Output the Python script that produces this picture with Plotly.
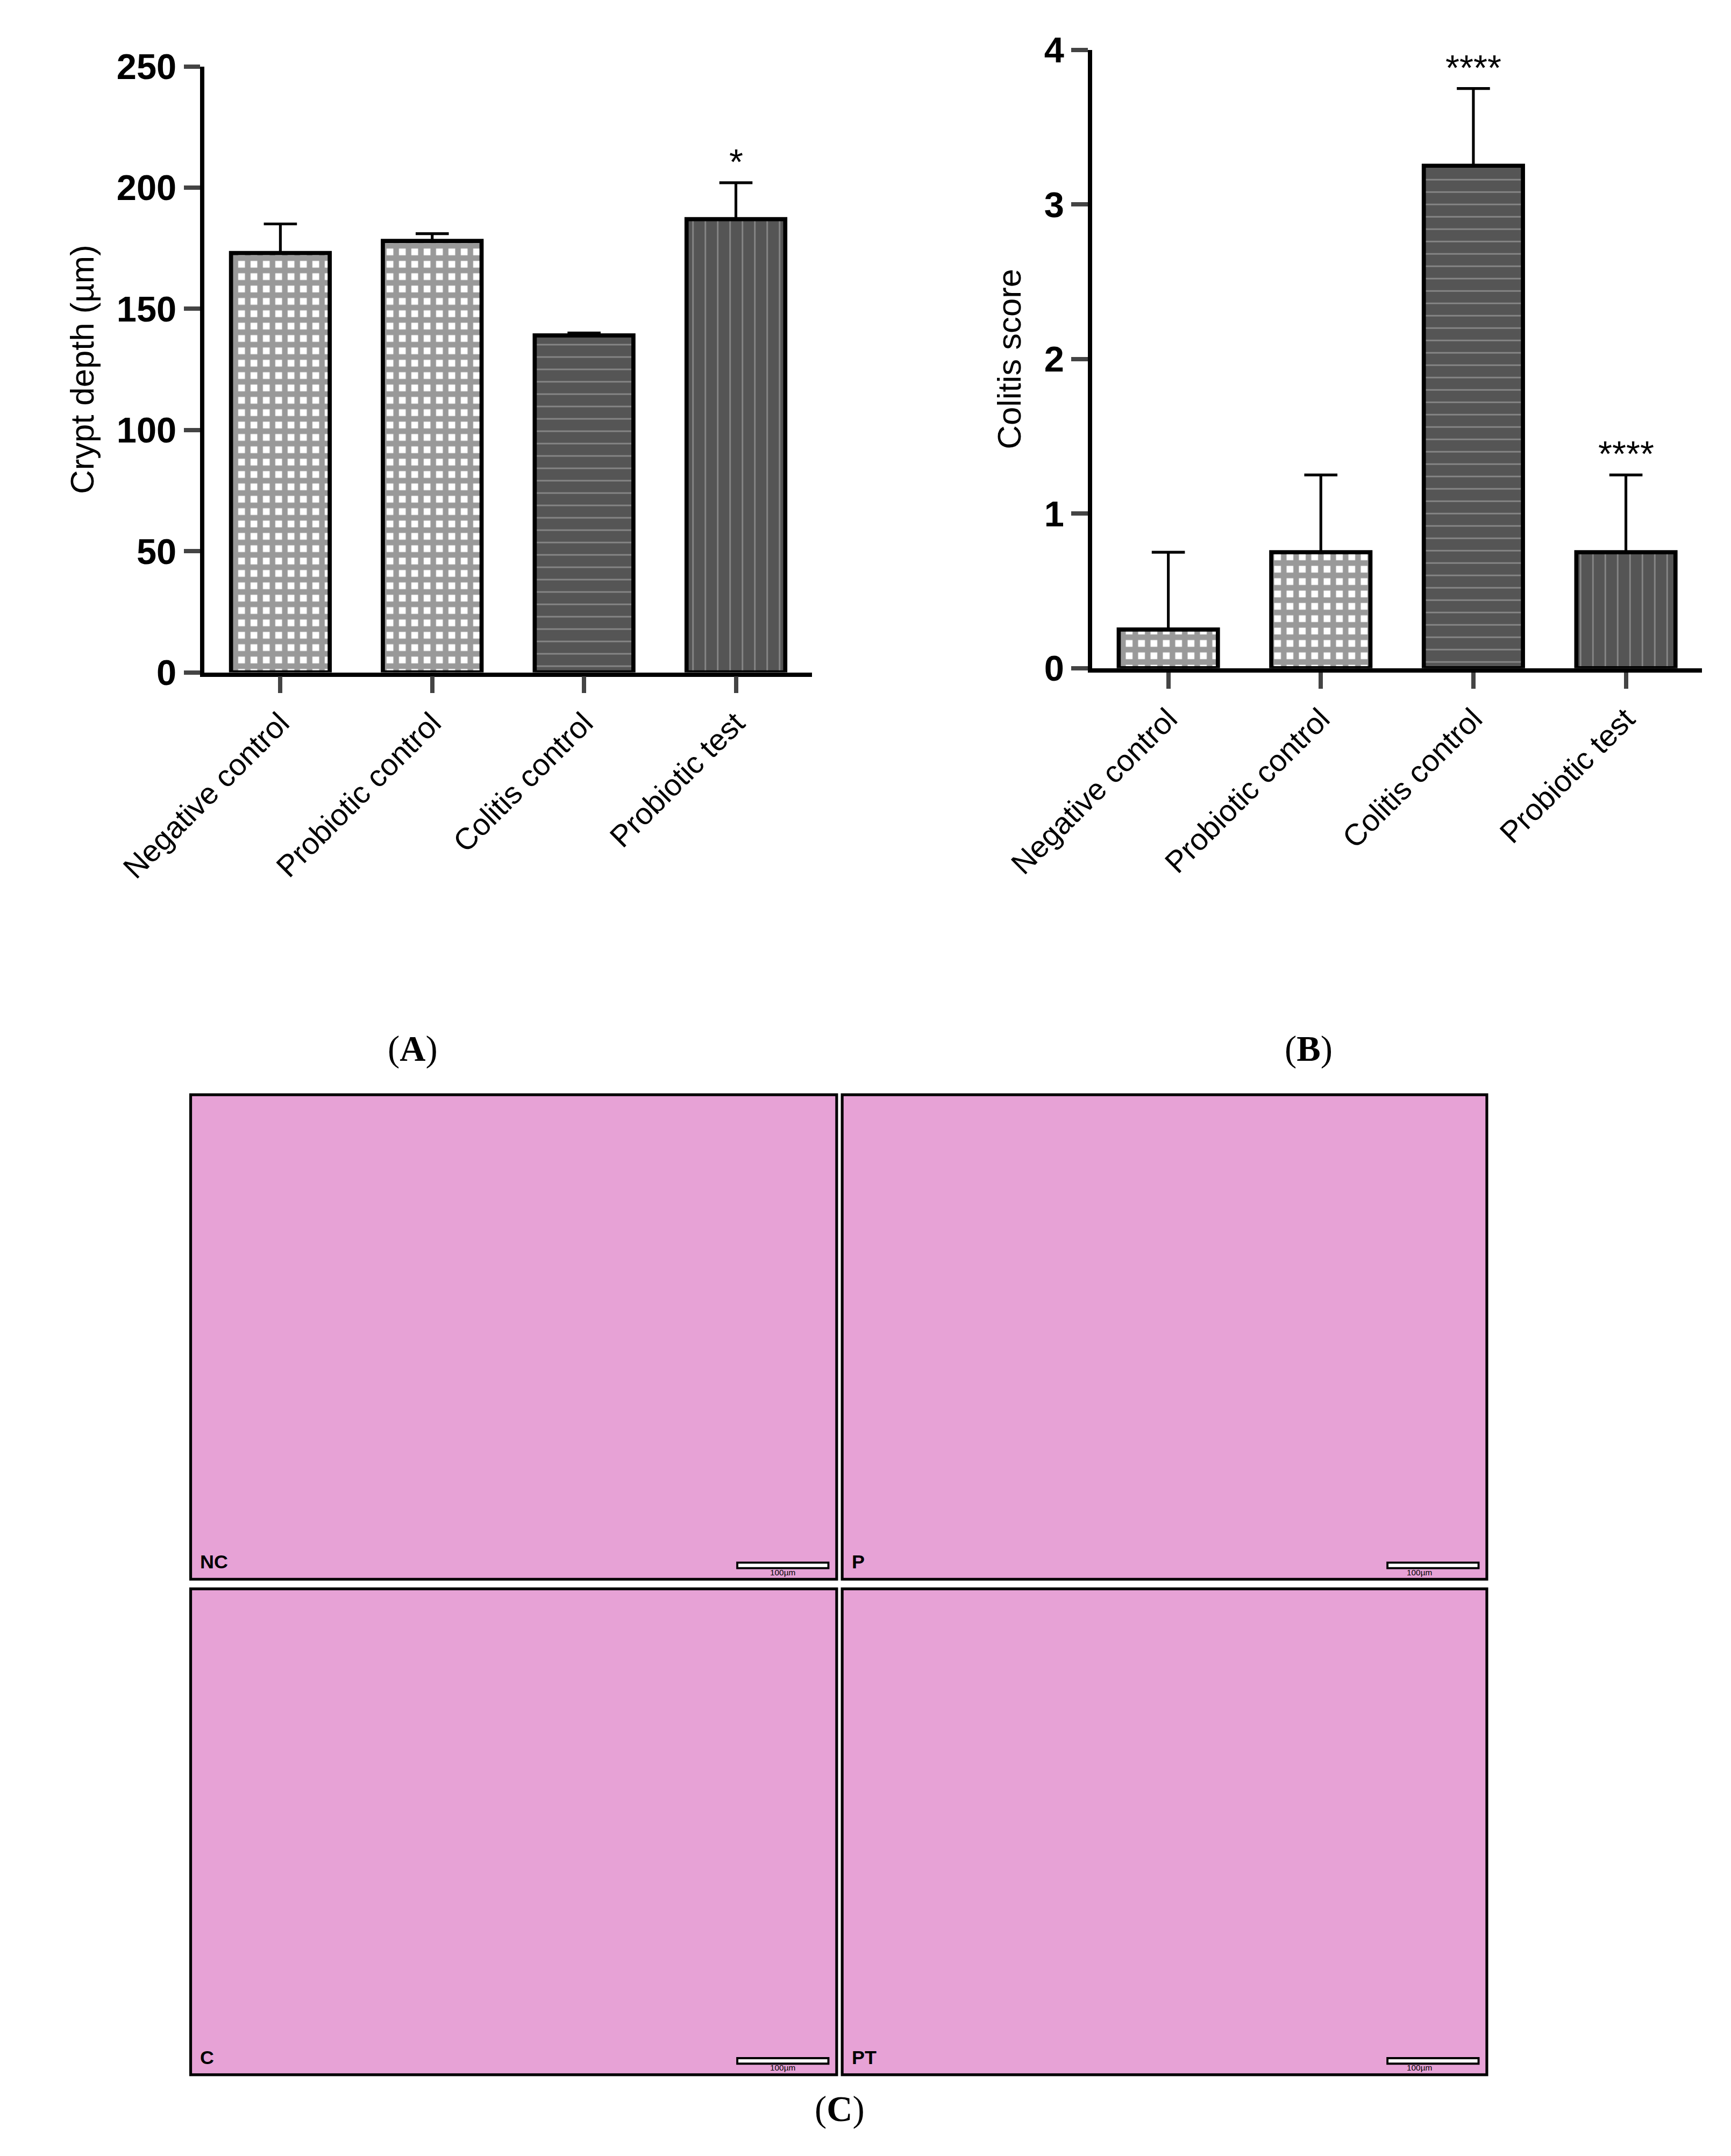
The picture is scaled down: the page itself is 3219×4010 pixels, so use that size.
import plotly.graph_objects as go

groups = ['Negative control', 'Probiotic control', 'Colitis control', 'Probiotic test']
crypt_depth = [173, 178, 139, 187]
crypt_err = [12, 3, 1, 15]
crypt_sig = ['', '', '', '*']
colitis_score = [0.25, 0.75, 3.25, 0.75]
colitis_err = [0.5, 0.5, 0.5, 0.5]
colitis_sig = ['', '', '****', '****']
panels = ['NC', 'P', 'C', 'PT']

S = 3219 / 1254
W, H = 3219, 4010
font = 'Liberation Sans'

patterns = [
    dict(shape='+', fgcolor='#333', bgcolor='white', size=int(9 * S), solidity=0.7),
    dict(shape='+', fgcolor='#333', bgcolor='white', size=int(9 * S), solidity=0.7),
    dict(shape='-', fgcolor='#bbb', bgcolor='#555', size=int(9 * S), solidity=0.12),
    dict(shape='|', fgcolor='#bbb', bgcolor='#555', size=int(9 * S), solidity=0.12),
]

fig = go.Figure()
for i, g in enumerate(groups):
    fig.add_trace(go.Bar(
        x=[g], y=[crypt_depth[i]], width=0.65, xaxis='x', yaxis='y',
        marker=dict(color=patterns[i]['bgcolor'], pattern=patterns[i],
                    line=dict(color='black', width=3 * S)),
        error_y=dict(type='data', array=[crypt_err[i]], arrayminus=[0],
                     color='black', thickness=2 * S, width=12 * S),
        showlegend=False))
    fig.add_trace(go.Bar(
        x=[g], y=[colitis_score[i]], width=0.65, xaxis='x2', yaxis='y2',
        marker=dict(color=patterns[i]['bgcolor'], pattern=patterns[i],
                    line=dict(color='black', width=3 * S)),
        error_y=dict(type='data', array=[colitis_err[i]], arrayminus=[0],
                     color='black', thickness=2 * S, width=12 * S),
        showlegend=False))

ann = []
for i, g in enumerate(groups):
    if crypt_sig[i]:
        ann.append(dict(x=g, y=crypt_depth[i] + crypt_err[i], xref='x', yref='y',
                        text=crypt_sig[i], showarrow=False, yanchor='bottom',
                        font=dict(size=26 * S, family=font, color='black')))
    if colitis_sig[i]:
        ann.append(dict(x=g, y=colitis_score[i] + colitis_err[i], xref='x2', yref='y2',
                        text=colitis_sig[i], showarrow=False, yanchor='bottom',
                        font=dict(size=26 * S, family=font, color='black')))

for lab, x, y in [('(<b>A</b>)', 277, 757), ('(<b>B</b>)', 963, 757), ('(<b>C</b>)', 605, 1540)]:
    ann.append(dict(x=x / 1254, y=1 - y / 1562, xref='paper', yref='paper', text=lab,
                    showarrow=False, font=dict(size=26 * S, family='Liberation Serif', color='black')))

# histology panels (placeholders)
boxes = [(135, 603, 790, 1141), (607, 1074, 790, 1141), (135, 603, 1148, 1500), (607, 1074, 1148, 1500)]
shapes = []
for (x0, x1, y0, y1), p in zip(boxes, panels):
    shapes.append(dict(type='rect', xref='paper', yref='paper', x0=x0 / 1254, x1=x1 / 1254,
                       y0=1 - y1 / 1562, y1=1 - y0 / 1562, fillcolor='#e7a2d6',
                       line=dict(color='black', width=2 * S), layer='below'))
    shapes.append(dict(type='rect', xref='paper', yref='paper', x0=(x1 - 72) / 1254, x1=(x1 - 6) / 1254,
                       y0=1 - (y1 - 8) / 1562, y1=1 - (y1 - 12) / 1562, fillcolor='white',
                       line=dict(color='black', width=1.5 * S)))
    ann.append(dict(x=(x0 + 6) / 1254, y=1 - (y1 - 4) / 1562, xref='paper', yref='paper',
                    text='<b>' + p + '</b>', showarrow=False, xanchor='left', yanchor='bottom',
                    font=dict(size=14 * S, family=font, color='black')))
    ann.append(dict(x=(x1 - 39) / 1254, y=1 - (y1 - 1) / 1562, xref='paper', yref='paper',
                    text='100µm', showarrow=False, yanchor='bottom',
                    font=dict(size=6 * S, family=font, color='black')))

axis_common = dict(showline=True, linecolor='black', linewidth=3 * S, ticks='outside',
                   tickwidth=3 * S, ticklen=12 * S, showgrid=False, zeroline=False, automargin=False)
tickfont_x = dict(size=22 * S, family=font, color='black')
tickfont_y = dict(size=26 * S, family=font, color='black', weight='bold')

fig.update_layout(
    width=W, height=H, plot_bgcolor='white', paper_bgcolor='white',
    margin=dict(l=0, r=0, t=0, b=0, autoexpand=False), bargap=0.35,
    xaxis=dict(domain=[145 / 1254, 585 / 1254], anchor='y', tickangle=-45,
               tickfont=tickfont_x, **axis_common),
    yaxis=dict(domain=[1 - 484 / 1562, 1 - 45 / 1562], anchor='x', range=[0, 250],
               tickvals=[0, 50, 100, 150, 200, 250], tickfont=tickfont_y,
               title=dict(text='Crypt depth (µm)', font=dict(size=24 * S, family=font, color='black'), standoff=10 * S),
               **axis_common),
    xaxis2=dict(domain=[788 / 1254, 1230 / 1254], anchor='y2', tickangle=-45,
                tickfont=tickfont_x, **axis_common),
    yaxis2=dict(domain=[1 - 481 / 1562, 1 - 33 / 1562], anchor='x2', range=[0, 4],
                tickvals=[0, 1, 2, 3, 4], tickfont=tickfont_y,
                title=dict(text='Colitis score', font=dict(size=24 * S, family=font, color='black'), standoff=10 * S),
                **axis_common),
    annotations=ann, shapes=shapes,
)

fig.write_html('out.html')
